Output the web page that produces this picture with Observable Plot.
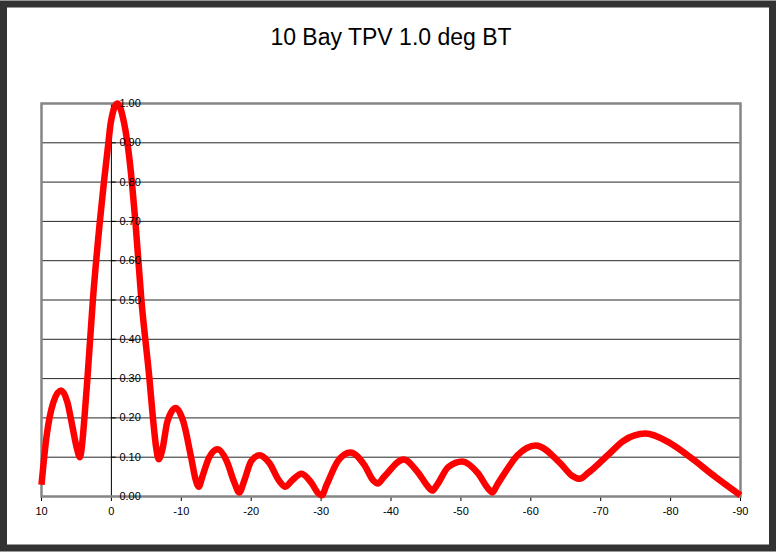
<!DOCTYPE html>
<html><head><meta charset="utf-8">
<script src="https://cdn.jsdelivr.net/npm/d3@7"></script>
<script src="https://cdn.jsdelivr.net/npm/@observablehq/plot@0.6"></script>
<style>body{margin:0;background:#fff} svg{display:block}</style>
</head><body><div id="chart"></div>
<script>
const title = "10 Bay TPV 1.0 deg BT";
const angles = [10, 9.3, 8.3, 7.2, 6.3, 5.6, 4.9, 4.5, 4.15, 3.86, 3.43, 2.65, 1.65, 1.07, 0.43, 0.10, -0.86, -1.82, -2.29, -2.93, -3.43, -4.29, -5.44, -5.94, -6.44, -6.75, -7.3, -8.0, -9.2, -10.3, -11.4, -12.1, -12.5, -13.0, -14.0, -15.2, -16.5, -17.6, -18.3, -19.0, -20.0, -21.2, -22.6, -24.0, -24.9, -25.8, -27.2, -28.6, -29.6, -30.1, -30.8, -32.4, -34.2, -36.2, -37.5, -38.1, -39.0, -41.8, -43.9, -45.3, -45.9, -46.6, -48.2, -50.2, -52.4, -54.0, -54.5, -55.2, -56.1, -58.1, -60.7, -64.2, -65.9, -67.0, -68.2, -71.0, -73.3, -76.4, -79.8, -82.8, -86.4, -90];
const values = [0.03, 0.15, 0.24, 0.27, 0.24, 0.18, 0.12, 0.10, 0.14, 0.20, 0.30, 0.50, 0.70, 0.80, 0.90, 0.95, 1.00, 0.95, 0.90, 0.80, 0.70, 0.50, 0.30, 0.20, 0.12, 0.095, 0.12, 0.19, 0.225, 0.19, 0.10, 0.04, 0.025, 0.05, 0.10, 0.12, 0.09, 0.035, 0.01, 0.04, 0.09, 0.105, 0.085, 0.04, 0.025, 0.04, 0.058, 0.035, 0.008, 0.003, 0.03, 0.09, 0.112, 0.08, 0.04, 0.033, 0.05, 0.094, 0.06, 0.025, 0.015, 0.03, 0.075, 0.089, 0.06, 0.018, 0.01, 0.03, 0.055, 0.105, 0.13, 0.085, 0.053, 0.045, 0.06, 0.105, 0.142, 0.16, 0.137, 0.10, 0.05, 0.003];
const xTicks = [10, 0, -10, -20, -30, -40, -50, -60, -70, -80, -90];
const yTicks = [0, 0.1, 0.2, 0.3, 0.4, 0.5, 0.6, 0.7, 0.8, 0.9, 1.0];

const data = angles.map((a, i) => ({angle: a, value: values[i]}));
const fmt = d3.format(".2f");

const chart = Plot.plot({
  width: 776, height: 552,
  marginLeft: 41, marginRight: 36, marginTop: 103, marginBottom: 56,
  style: {fontFamily: "'Liberation Sans', Arial, sans-serif", background: "#fff", color: "#000"},
  x: {domain: [10, -90], axis: null},
  y: {domain: [0, 1], axis: null},
  marks: [
    Plot.ruleY(yTicks.slice(1), {y: d => d, stroke: "#000", strokeWidth: 1, strokeOpacity: 0.85}),
    Plot.ruleX([0], {x: d => d, stroke: "#000", strokeWidth: 1}),
    Plot.ruleY(yTicks, {y: d => d, x1: () => 0, x2: () => -0.7, stroke: "#000", strokeWidth: 1}),
    Plot.axisX({ticks: xTicks, tickSize: 5, tickPadding: 6, fontSize: 11, tickFormat: d => String(d), label: null, stroke: "#000"}),
    Plot.frame({stroke: "#858585", strokeWidth: 2.5}),
    Plot.line(data, {x: "angle", y: "value", stroke: "#ff0000", strokeWidth: 6.5, curve: "monotone-x", strokeLinejoin: "round", strokeLinecap: "butt"}),
    Plot.text(yTicks, {x: () => 0, y: d => d, text: d => fmt(d), dx: 8, textAnchor: "start", fontSize: 11, fill: "#000"}),
    Plot.text([title], {frameAnchor: "top", dy: -66, fontSize: 23, fill: "#000", lineAnchor: "middle"})
  ]
});

d3.select(chart).append("rect")
  .attr("x", 3.5).attr("y", 4).attr("width", 769).attr("height", 544)
  .attr("fill", "none").attr("stroke", "#333").attr("stroke-width", 7);

document.getElementById("chart").appendChild(chart);
</script>
</body></html>
